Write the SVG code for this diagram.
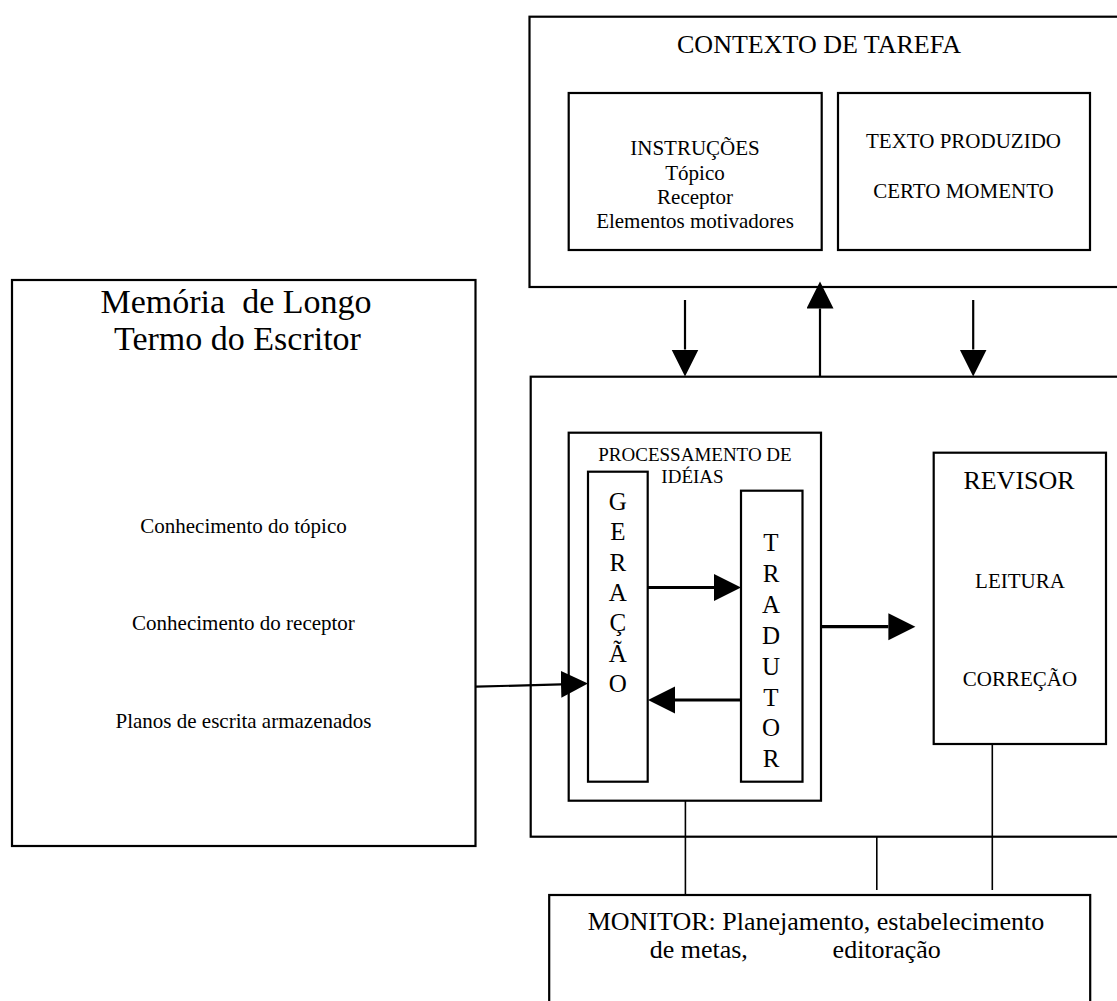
<svg xmlns="http://www.w3.org/2000/svg" width="1117" height="1001" viewBox="0 0 1117 1001">
<defs>
<style>
.box{fill:none;stroke:#000;stroke-width:2.2}
.t{font-family:"Liberation Serif","Times New Roman",serif;fill:#000;text-anchor:middle}
.s21{font-size:21px}
.s19{font-size:19px}
.s26{font-size:26px}
.s25{font-size:25px}
.s34{font-size:34px}
.arr{stroke:#000;stroke-width:2.2;fill:none;marker-end:url(#ah)}
.arr3{stroke:#000;stroke-width:3.2;fill:none;marker-end:url(#ah)}
.ln{stroke:#000;stroke-width:1.6;fill:none}
</style>
<marker id="ah" markerUnits="userSpaceOnUse" markerWidth="28" markerHeight="28" refX="0" refY="13.5" orient="auto" viewBox="0 0 28 28">
<path d="M0,0 L27,13.5 L0,27 Z" fill="#000"/>
</marker>
</defs>
<rect width="1117" height="1001" fill="#fff"/>

<g id="contexto">
<rect class="box" x="529.5" y="16.7" width="600" height="270.3"/>
<text class="t s26" x="819" y="53">CONTEXTO DE TAREFA</text>
</g>
<g id="instrucoes">
<rect class="box" x="568.7" y="93" width="253" height="157"/>
<text class="t s21" x="695" y="155">INSTRUÇÕES</text>
<text class="t s21" x="695" y="180">Tópico</text>
<text class="t s21" x="695" y="204">Receptor</text>
<text class="t s21" x="695" y="228">Elementos motivadores</text>
</g>
<g id="texto-produzido">
<rect class="box" x="838" y="93" width="252" height="157"/>
<text class="t s21" x="963.5" y="148">TEXTO PRODUZIDO</text>
<text class="t s21" x="963.5" y="198">CERTO MOMENTO</text>
</g>

<g id="memoria">
<rect class="box" x="12" y="280" width="463.5" height="566"/>
<text class="t s34" x="236" y="313" xml:space="preserve">Memória  de Longo</text>
<text class="t s34" x="237.5" y="350">Termo do Escritor</text>
<text class="t s21" x="243.5" y="532.5">Conhecimento do tópico</text>
<text class="t s21" x="243.5" y="630">Conhecimento do receptor</text>
<text class="t s21" x="243.5" y="727.7">Planos de escrita armazenados</text>
</g>

<g id="processo-escrita">
<rect class="box" x="530.7" y="376.7" width="600" height="460"/>
</g>
<g id="processamento">
<rect class="box" x="568.7" y="432.7" width="252.3" height="368"/>
<text class="t s19" x="695" y="460.7">PROCESSAMENTO DE</text>
<text class="t s19" x="692.5" y="482.5">IDÉIAS</text>
</g>
<g id="geracao">
<rect class="box" x="588" y="471.7" width="59.7" height="310"/>
<text class="t s25" x="617.8" y="510">G</text>
<text class="t s25" x="617.8" y="540">E</text>
<text class="t s25" x="617.8" y="570.5">R</text>
<text class="t s25" x="617.8" y="601">A</text>
<text class="t s25" x="617.8" y="631">Ç</text>
<text class="t s25" x="617.8" y="661.5">Ã</text>
<text class="t s25" x="617.8" y="692">O</text>
</g>
<g id="tradutor">
<rect class="box" x="741" y="490.7" width="61.5" height="291"/>
<text class="t s25" x="771" y="551">T</text>
<text class="t s25" x="771" y="582">R</text>
<text class="t s25" x="771" y="613">A</text>
<text class="t s25" x="771" y="644">D</text>
<text class="t s25" x="771" y="675">U</text>
<text class="t s25" x="771" y="705.5">T</text>
<text class="t s25" x="771" y="736">O</text>
<text class="t s25" x="771" y="767">R</text>
</g>
<g id="revisor">
<rect class="box" x="933.7" y="452.7" width="172.3" height="291.3"/>
<text class="t s26" x="1019" y="489.3">REVISOR</text>
<text class="t s21" x="1020" y="588.3">LEITURA</text>
<text class="t s21" x="1020" y="685.7">CORREÇÃO</text>
</g>
<g id="monitor">
<rect class="box" x="549.2" y="895" width="541" height="115"/>
<text class="t s26" x="816" y="930">MONITOR: Planejamento, estabelecimento</text>
<text class="t s26" x="649.7" y="958.3" style="text-anchor:start">de metas,<tspan x="832.6">editoração</tspan></text>
</g>

<g id="connectors">
<line class="arr" x1="685" y1="300" x2="685" y2="349.5"/>
<line class="arr" x1="820" y1="377" x2="820" y2="308.5"/>
<line class="arr" x1="973.2" y1="300" x2="973.2" y2="349.5"/>
<line class="arr3" x1="648" y1="587.5" x2="714" y2="587.5"/>
<line class="arr3" x1="742" y1="700" x2="675" y2="700"/>
<line class="arr3" x1="821" y1="626.7" x2="888.4" y2="626.7"/>
<line class="arr" x1="476" y1="686.7" x2="561" y2="684.3"/>
<line class="ln" x1="685.4" y1="801" x2="685.4" y2="895"/>
<line class="ln" x1="876.8" y1="837" x2="876.8" y2="890"/>
<line class="ln" x1="992.3" y1="744" x2="992.3" y2="890"/>
</g>
</svg>
